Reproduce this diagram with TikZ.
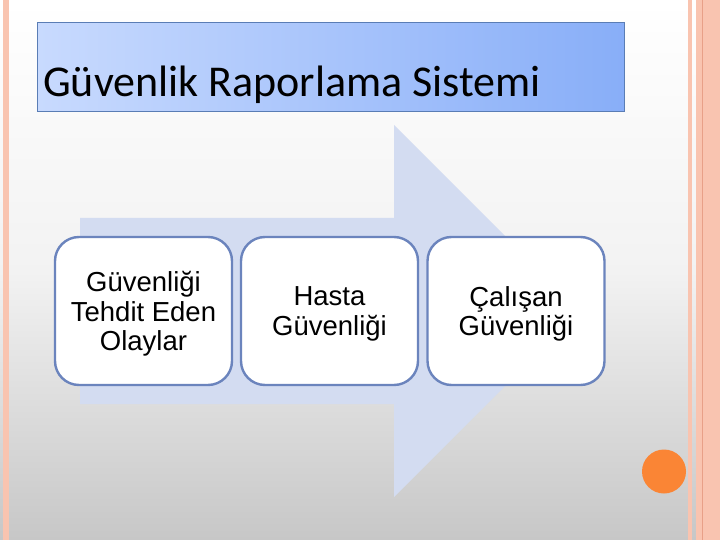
\documentclass[tikz,border=0pt]{standalone}
\usepackage{fontspec}
\setmainfont{Liberation Sans}
\newfontfamily\titlefont{Carlito}
\usetikzlibrary{shapes.geometric}
\definecolor{peach}{HTML}{F9C4B0}
\definecolor{peachdark}{HTML}{E8A088}
\definecolor{arrowfill}{HTML}{D3DCF1}
\definecolor{boxline}{HTML}{6B84BD}
\definecolor{titleL}{HTML}{C8DAFE}
\definecolor{titleR}{HTML}{88AEF8}
\definecolor{titleline}{HTML}{5A7DB5}
\definecolor{dot}{HTML}{FA8535}
\tikzset{
  stepbox/.style={draw=boxline, line width=2.4pt, fill=white, rounded corners=24pt,
    minimum width=177pt, minimum height=148pt, align=center, text depth=0pt,
    font=\fontsize{27.5}{29.5}\selectfont, inner sep=0pt},
}
\begin{document}
\begin{tikzpicture}[x=1pt,y=-1pt]
\useasboundingbox (0,0) rectangle (720,540);
% background
\shade[top color=white, bottom color=white!78!black, middle color=white!95!black] (0,0) rectangle (720,540);
% left strip
\fill[peach] (3,0) rectangle (9,540);
% right strips
\fill[peach] (688,0) rectangle (692,540);
\fill[peach] (696,0) rectangle (720,540);
\fill[peachdark] (702,0) rectangle (703,540);
% title box
\node[draw=titleline, line width=1.2pt, left color=titleL, right color=titleR,
  minimum width=587pt, minimum height=89pt, inner sep=0pt, anchor=north west] (title) at (37,22) {};
\node[anchor=base west, inner sep=0pt, font=\titlefont\fontsize{44}{50}\selectfont] (titletext) at (43,97) {Güvenlik Raporlama Sistemi};
% big arrow
\fill[arrowfill] (80,218) -- (394,218) -- (394,125) -- (580,311) -- (394,497) -- (394,404) -- (80,404) -- cycle;
% boxes
\node[stepbox] (b1) at (143.5,311) {Güvenliği\\Tehdit Eden\\Olaylar};
\node[stepbox] (b2) at (329.5,311) {Hasta\\Güvenliği};
\node[stepbox] (b3) at (516,311) {Çalışan\\Güvenliği};
% orange dot
\node[circle, fill=dot, minimum size=44pt, inner sep=0pt] (dotc) at (664,471.5) {};
\end{tikzpicture}
\end{document}
